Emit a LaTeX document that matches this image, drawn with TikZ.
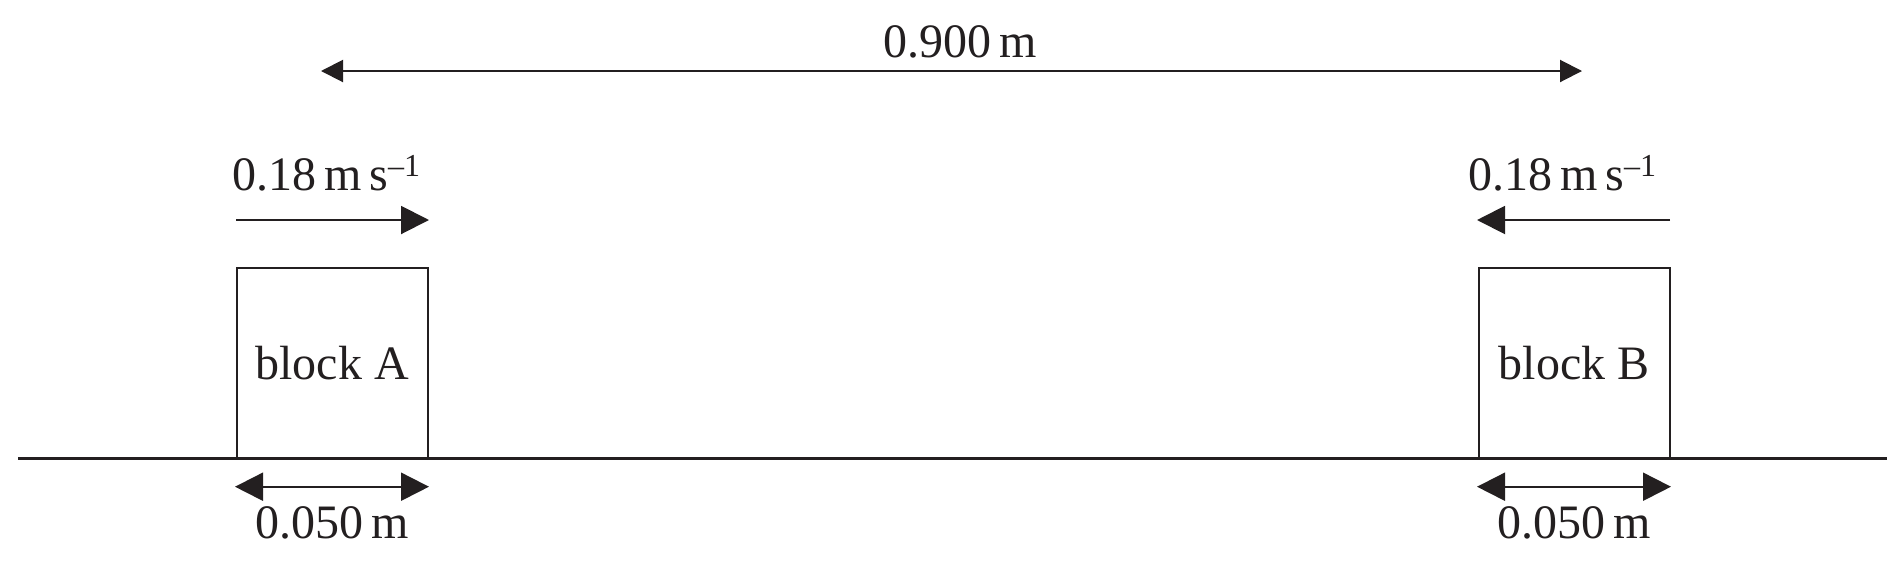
\documentclass[tikz,border=0pt]{standalone}
\usepackage{fontspec}
\setmainfont{Liberation Serif}
\usetikzlibrary{arrows.meta}
\definecolor{ink}{RGB}{35,31,32}
\newcommand\myinv{\raisebox{14pt}{\fontsize{32}{32}\selectfont –1}}
\begin{document}
\begin{tikzpicture}[x=1pt,y=-1pt,
  lbl/.style={font=\fontsize{48}{48}\selectfont, text=ink, inner sep=0pt, anchor=base},
  blockbox/.style={draw=ink, line width=2pt, minimum width=191pt, minimum height=190pt, inner sep=0pt, font=\fontsize{48}{48}\selectfont, text=ink, text depth=0pt},
  dimarrow/.style={draw=ink, line width=2pt, {Triangle[length=28pt,width=28pt]}-{Triangle[length=28pt,width=28pt]}},
  velarrow/.style={draw=ink, line width=2pt, -{Triangle[length=28pt,width=28pt]}},
  toparrow/.style={draw=ink, line width=2pt, {Triangle[length=22pt,width=22pt]}-{Triangle[length=22pt,width=22pt]}}]
\useasboundingbox (0,0) rectangle (1903,566);
% ground
\coordinate (g1) at (18,458.3);
\coordinate (g2) at (1887,458.3);
\draw[ink, line width=3pt] (g1) -- (g2);
% blocks
\node[blockbox, fill=white] (A) at (332.2,363.3) {block A};
\node[blockbox, fill=white] (B) at (1574.3,363.3) {block B};
% top distance
\coordinate (t1) at (321,71);
\coordinate (t2) at (1582,71);
\draw[toparrow] (t1) -- (t2);
\node[lbl] (tl) at (960,57) {0.900\,m};
% velocity arrows
\coordinate (vA1) at (236,220);
\coordinate (vA2) at (429,220);
\draw[velarrow] (vA1) -- (vA2);
\node[lbl, anchor=base west] (vlA) at (232,190) {0.18\,m\,s\myinv};
\coordinate (vB1) at (1670,220);
\coordinate (vB2) at (1477,220);
\draw[velarrow] (vB1) -- (vB2);
\node[lbl, anchor=base west] (vlB) at (1468,190) {0.18\,m\,s\myinv};
% width dimensions
\coordinate (dA1) at (235,486.7);
\coordinate (dA2) at (429,486.7);
\draw[dimarrow] (dA1) -- (dA2);
\node[lbl] (wA) at (332,538) {0.050\,m};
\coordinate (dB1) at (1477,486.7);
\coordinate (dB2) at (1671,486.7);
\draw[dimarrow] (dB1) -- (dB2);
\node[lbl] (wB) at (1574,538) {0.050\,m};
\end{tikzpicture}
\end{document}
